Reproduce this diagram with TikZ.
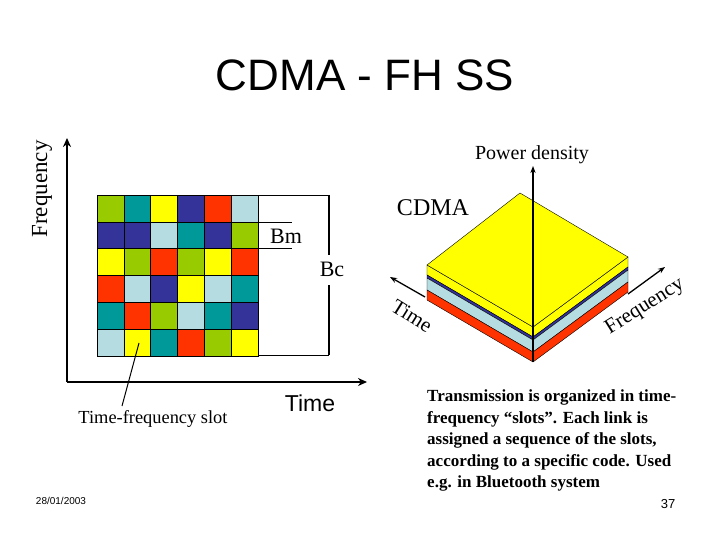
\documentclass[tikz,border=0pt]{standalone}
\usepackage{fontspec}
\setmainfont{Liberation Serif}
\setsansfont{Liberation Sans}
\usetikzlibrary{arrows.meta,calc}
\definecolor{cg}{RGB}{153,204,0}
\definecolor{ct}{RGB}{0,153,153}
\definecolor{cy}{RGB}{255,255,0}
\definecolor{cn}{RGB}{51,51,153}
\definecolor{cr}{RGB}{255,51,0}
\definecolor{cl}{RGB}{180,220,225}
\tikzset{ax/.style={line width=1.6pt,-{Stealth[length=9pt,width=8pt]}},
 thin3/.style={draw=black,line width=0.4pt}}
\begin{document}
\begin{tikzpicture}[x=1pt,y=-1pt]
\useasboundingbox (0,0) rectangle (720,540);
\node[font=\sffamily\fontsize{44}{48}\selectfont] (title) at (365,75) {CDMA - FH SS};
% axes
\coordinate (o) at (67,382);
\coordinate (fy) at (67,138);
\coordinate (tx) at (367,382);
\draw[ax] (o) -- (fy);
\draw[ax] (o) -- (tx);
\node[rotate=90,font=\fontsize{23}{24}\selectfont] (flab) at (42,189) {Frequency};
\node[font=\sffamily\fontsize{23}{24}\selectfont] (tlab) at (310,403) {Time};
% grid
\def\cs{26.8}
\foreach \row [count=\r from 0] in {{cg,ct,cy,cn,cr,cl},{cn,cn,cl,ct,cn,cg},{cy,cg,cr,cg,cy,cr},{cr,cl,cn,cy,cl,ct},{ct,cr,cg,cl,ct,cn},{cl,cy,ct,cr,cg,cy}}{
 \foreach \c [count=\k from 0] in \row {
  \fill[\c,draw=black,line width=0.5pt] (97+\k*\cs,195+\r*\cs) rectangle ++(\cs,\cs);
 }}
% Bm
\draw[line width=0.5pt] (258,222) -- (292,222) (258,248) -- (292,248);
\node[font=\fontsize{22}{24}\selectfont] (bm) at (286,236) {Bm};
% Bc
\draw[line width=0.5pt] (258,195) -- (329,195) (258,355) -- (329,355);
\node[font=\fontsize{22}{24}\selectfont] (bc) at (332,269) {Bc};
\coordinate (bct) at (329,195); \coordinate (bcb) at (329,355);
\coordinate (bcm1) at (329,255); \coordinate (bcm2) at (329,285);
\draw[line width=1.6pt] (bct) -- (bcm1);
\draw[line width=1.6pt] (bcm2) -- (bcb);
% slot pointer
\node[font=\fontsize{18.4}{20}\selectfont] (slot) at (153,419) {Time-frequency slot};
\coordinate (sp) at (139,343);
\draw[line width=1pt] (122,406) -- (sp);
% 3D box
\coordinate (L) at (427,265); \coordinate (B) at (520,193);
\coordinate (R) at (628,257); \coordinate (F) at (533,327);
\def\mylayer#1#2#3{\fill[#1,thin3] ($(L)+(0,#2)$) -- ($(F)+(0,#2)$) -- ($(R)+(0,#2)$) -- ($(R)+(0,#3)$) -- ($(F)+(0,#3)$) -- ($(L)+(0,#3)$) -- cycle; \draw[thin3] ($(F)+(0,#2)$) -- ($(F)+(0,#3)$);}
\mylayer{cy}{0}{10}
\mylayer{cn}{10}{13}
\mylayer{cl}{13}{25}
\mylayer{cr}{25}{35}
\fill[cy,thin3] (L) -- (B) -- (R) -- (F) -- cycle;
% 3D axes
\coordinate (pb) at (533,362); \coordinate (pt) at (533,166);
\draw[line width=1.3pt,-{Stealth[length=7pt]}] (pb) -- (pt);
\coordinate (t0) at (425,297); \coordinate (t1) at (390,277);
\draw[line width=1.3pt,-{Stealth[length=7pt]}] (t0) -- (t1);
\coordinate (f0) at (628,294); \coordinate (f1) at (665,267);
\draw[line width=1.3pt,-{Stealth[length=7pt]}] (f0) -- (f1);
\node[font=\fontsize{20}{22}\selectfont] (pd) at (532,155) {Power density};
\node[font=\fontsize{24}{26}\selectfont] (cdma) at (433,208) {CDMA};
\node[rotate=-32,font=\fontsize{21}{22}\selectfont] (tim) at (412,316) {Time};
\node[rotate=32,font=\fontsize{21}{22}\selectfont] (fre) at (645,307) {Frequency};
% text block
\node[anchor=north west,align=left,font=\bfseries\fontsize{17}{21.5}\selectfont,inner sep=0pt] (txt) at (427,390) {Transmission is organized in time-\\frequency “slots”. Each link is\\assigned a sequence of the slots,\\according to a specific code. Used\\e.g. in Bluetooth system};
\node[font=\sffamily\fontsize{10}{12}\selectfont] (date) at (61,501) {28/01/2003};
\node[font=\sffamily\fontsize{13}{14}\selectfont] (pg) at (668,504) {37};
\end{tikzpicture}
\end{document}
